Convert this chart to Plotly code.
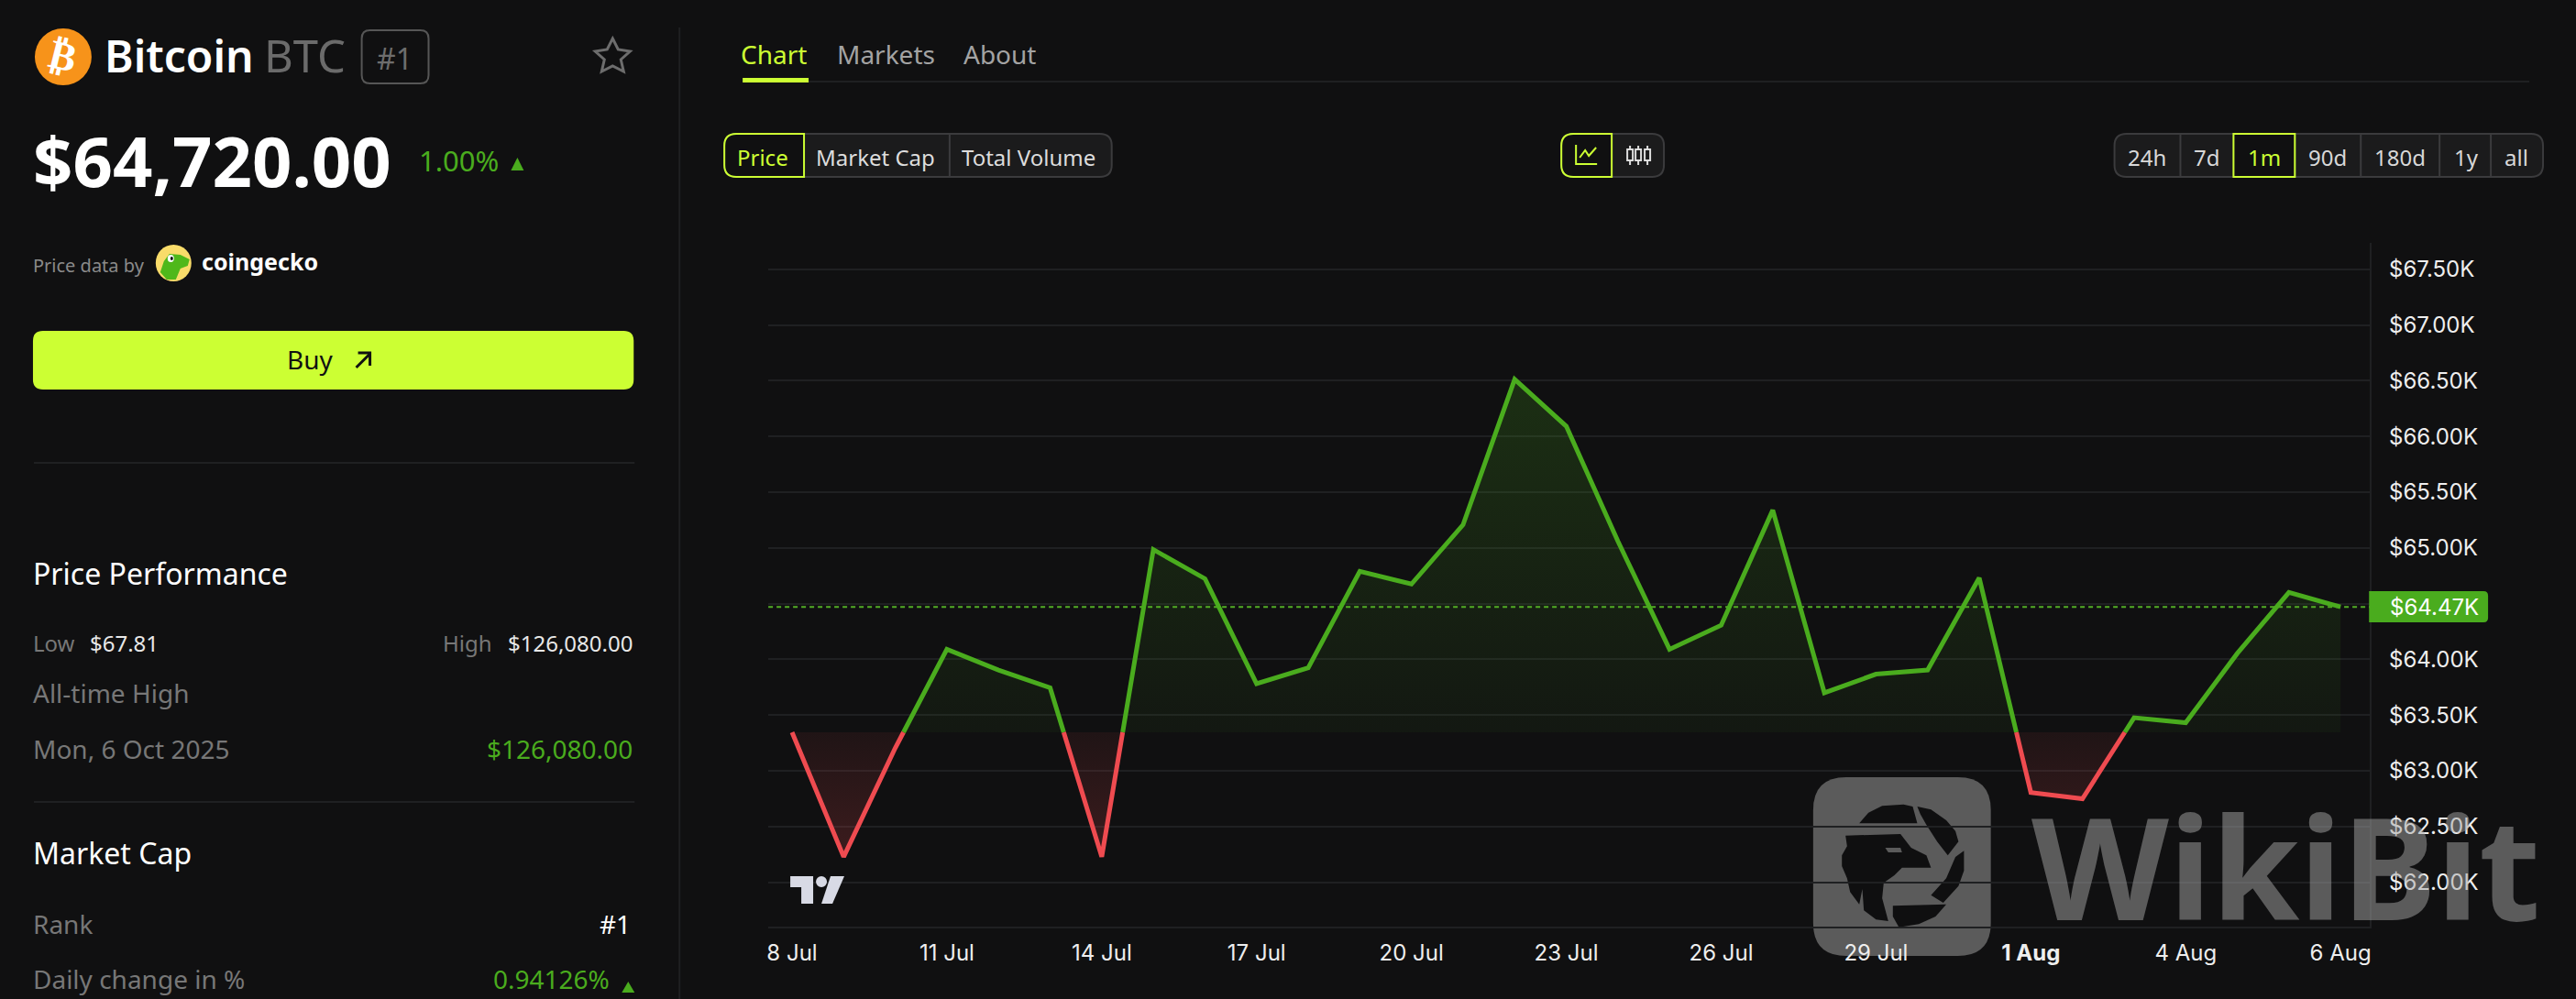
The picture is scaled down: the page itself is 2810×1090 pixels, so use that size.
import plotly.graph_objects as go

W = 2810
H = 1090

# chart values
prices = [63345, 62228, 63205, 64090, 63904, 63744, 62228, 64984, 64723, 63781, 63923,
          64790, 64675, 65207, 66511, 66091, 65059, 64090, 64306, 65338, 63699, 63867,
          63904, 64731, 62805, 62749, 63476, 63431, 64053, 64601, 64470]
days = list(range(len(prices)))
x_tick_days = [0, 3, 6, 9, 12, 15, 18, 21, 24, 27, 30]
x_tick_labels = ['8 Jul', '11 Jul', '14 Jul', '17 Jul', '20 Jul', '23 Jul', '26 Jul',
                 '29 Jul', '<b>1 Aug</b>', '4 Aug', '6 Aug']
y_tick_values = [62000, 62500, 63000, 63500, 64000, 64500, 65000, 65500, 66000, 66500, 67000, 67500]
y_tick_labels = ['$62.00K', '$62.50K', '$63.00K', '$63.50K', '$64.00K', '', '$65.00K',
                 '$65.50K', '$66.00K', '$66.50K', '$67.00K', '$67.50K']
last_price = 64470
last_label = '$64.47K'

tabs = ['Chart', 'Markets', 'About']
metric_buttons = ['Price', 'Market Cap', 'Total Volume']
range_buttons = ['24h', '7d', '1m', '90d', '180d', '1y', 'all']

BG = '#101011'
LIME = '#ccff33'
GREEN = '#4aac1e'
RED = '#ef4b50'
GRAY = '#777777'
RULE = '#1f2022'
EDGE = '#3b3b3d'
PANEL = '#1b1b1c'
UI = 'Noto Sans'
TV = 'Inter'


def px(x):
    return x / W


def py(y):
    return 1 - y / H


def rrect(x0, y0, x1, y1, tl=0, tr=0, br=0, bl=0):
    # rounded box in pixel terms, returned as a paper path
    p = lambda x, y: f'{px(x):.5f},{py(y):.5f}'
    return (f'M{p(x0 + tl, y0)} L{p(x1 - tr, y0)} Q{p(x1, y0)} {p(x1, y0 + tr)} '
            f'L{p(x1, y1 - br)} Q{p(x1, y1)} {p(x1 - br, y1)} L{p(x0 + bl, y1)} '
            f'Q{p(x0, y1)} {p(x0, y1 - bl)} L{p(x0, y0 + tl)} Q{p(x0, y0)} {p(x0 + tl, y0)} Z')


def poly(points, close=True):
    s = 'M' + ' L'.join(f'{px(x):.5f},{py(y):.5f}' for x, y in points)
    return s + (' Z' if close else '')


shapes = []
notes = []


def box(path, fill='rgba(0,0,0,0)', edge=None, width=2, layer='above'):
    shapes.append(dict(type='path', xref='paper', yref='paper', path=path, fillcolor=fill, layer=layer,
                       line=dict(color=edge or 'rgba(0,0,0,0)', width=width if edge else 0)))


def rule(x0, y0, x1, y1, color=RULE, width=2):
    shapes.append(dict(type='line', xref='paper', yref='paper', x0=px(x0), y0=py(y0), x1=px(x1), y1=py(y1),
                       line=dict(color=color, width=width), layer='above'))


def oval(x0, y0, x1, y1, fill):
    shapes.append(dict(type='circle', xref='paper', yref='paper', x0=px(x0), y0=py(y0), x1=px(x1), y1=py(y1),
                       fillcolor=fill, line=dict(width=0), layer='above'))


def label(text, x, y, size, color, anchor='left', weight=400, family=UI, angle=0):
    notes.append(dict(text=text, x=px(x), y=py(y), xref='paper', yref='paper', showarrow=False,
                      xanchor=anchor, yanchor='middle', textangle=angle,
                      font=dict(size=size, color=color, family=family, weight=weight)))


# split the series where it crosses the baseline (first value)
base = prices[0]
xs = [days[0]]
vals = [prices[0]]
for i in range(1, len(prices)):
    a, b = prices[i - 1], prices[i]
    if (a - base) * (b - base) < 0:
        xs.append(days[i - 1] + (base - a) / (b - a))
        vals.append(base)
    xs.append(days[i])
    vals.append(b)

upper = [max(v, base) for v in vals]
lower = [min(v, base) for v in vals]
green_line = [v if v >= base else None for v in vals]
red_line = [v if v <= base else None for v in vals]

fig = go.Figure()

fig.add_trace(go.Scatter(x=xs, y=[base] * len(xs), mode='lines', line=dict(width=0), hoverinfo='skip'))
fig.add_trace(go.Scatter(x=xs, y=upper, mode='lines', line=dict(width=0), fill='tonexty', hoverinfo='skip',
                         fillgradient=dict(type='vertical', start=base, stop=max(prices),
                                           colorscale=[[0, 'rgba(74,172,30,0.05)'], [1, 'rgba(74,172,30,0.2)']])))
fig.add_trace(go.Scatter(x=xs, y=[base] * len(xs), mode='lines', line=dict(width=0), hoverinfo='skip'))
fig.add_trace(go.Scatter(x=xs, y=lower, mode='lines', line=dict(width=0), fill='tonexty', hoverinfo='skip',
                         fillgradient=dict(type='vertical', start=min(prices), stop=base,
                                           colorscale=[[0, 'rgba(239,75,80,0.2)'], [1, 'rgba(239,75,80,0.07)']])))
fig.add_trace(go.Scatter(x=xs, y=green_line, mode='lines', line=dict(color=GREEN, width=5), hoverinfo='skip'))
fig.add_trace(go.Scatter(x=xs, y=red_line, mode='lines', line=dict(color=RED, width=5), hoverinfo='skip'))

# current price line
shapes.append(dict(type='line', xref='paper', yref='y', x0=px(837), x1=px(2586), y0=last_price, y1=last_price,
                   line=dict(color='rgba(90,190,40,0.9)', width=2, dash='5px,4px'), layer='below'))
box(rrect(2585, 645, 2715, 679, 0, 5, 5, 0), fill=GREEN)
notes.append(dict(text=last_label, x=px(2606), y=last_price, xref='paper', yref='y', showarrow=False,
                  xanchor='left', yanchor='middle', font=dict(size=24, color='#ffffff', family=TV)))

# header of the left panel
oval(36, 31, 98, 93, '#f7931a')
label('₿', 67, 61, 44, '#ffffff', 'center', 700, 'DejaVu Sans', 14)
label('Bitcoin', 110, 60, 48, '#ffffff', weight=600)
label('BTC', 284, 60, 49, '#6b6b6b')
box(rrect(393, 33, 466, 91, 9, 9, 9, 9), edge='#565656')
label('#1', 429, 63, 32, '#6d6d6d', 'center')
box(poly([(667, 42), (673, 54), (686, 56), (676, 65), (679, 78), (667, 72), (655, 78), (658, 65), (648, 56), (661, 54)]),
    edge='#6d6d6d', width=3)

label('$64,720.00', 32, 174, 76, '#ffffff', weight=700)
label('1.00%', 453, 175, 31, GREEN)
box(poly([(563, 172), (570, 186), (556, 186)]), fill=GREEN)

label('Price data by', 32, 289, 20, '#8a8a8a')
oval(168, 267, 207, 307, '#f9dc6a')
box(poly([(177, 285), (183, 277), (195, 278), (205, 283), (203, 290), (195, 293), (190, 305), (180, 305), (173, 297)]),
    fill='#4fb81a')
oval(181, 278, 188, 286, '#ffffff')
oval(184, 280, 187, 284, '#101011')
label('coingecko', 216, 285, 25, '#ffffff', weight=700)

box(rrect(34, 361, 690, 425, 11, 11, 11, 11), fill=LIME)
label('Buy', 337, 392, 28, '#111111', 'center')
box(poly([(387, 401), (402, 386)], close=False), edge='#111111', width=3)
box(poly([(389, 385), (402, 385), (402, 399)], close=False), edge='#111111', width=3)

rule(35, 505, 691, 505)
label('Price Performance', 32, 625, 32, '#ffffff')
label('Low', 32, 701, 24, GRAY)
label('$67.81', 94, 701, 24, '#e8e8e8')
label('High', 538, 701, 24, GRAY, 'right')
label('$126,080.00', 691, 701, 24, '#e8e8e8', 'right')
label('All-time High', 32, 756, 28, GRAY)
label('Mon, 6 Oct 2025', 32, 817, 28, GRAY)
label('$126,080.00', 691, 817, 28, GREEN, 'right')
rule(35, 875, 691, 875)
label('Market Cap', 32, 930, 32, '#ffffff')
label('Rank', 32, 1008, 28, GRAY)
label('#1', 689, 1008, 28, '#ffffff', 'right')
label('Daily change in %', 32, 1068, 28, GRAY)
label('0.94126%', 666, 1068, 28, GREEN, 'right')
box(poly([(684, 1071), (691, 1083), (677, 1083)]), fill=GREEN)

rule(740, 30, 740, 1090)

# tabs
tab_left = [805, 910, 1048]
for name, left in zip(tabs, tab_left):
    label(name, left, 59, 28, LIME if name == 'Chart' else '#a3a3a3')
rule(809, 89, 2760, 89)
box(rrect(809, 85, 881, 90), fill=LIME)

# metric buttons
box(rrect(789, 146, 1212, 193, 13, 13, 13, 13), fill=PANEL, edge=EDGE)
rule(1035, 146, 1035, 193, EDGE)
box(rrect(789, 146, 876, 193, 13, 0, 0, 13), fill=BG, edge=LIME)
metric_center = [831, 954, 1121]
for name, cx in zip(metric_buttons, metric_center):
    label(name, cx, 171, 24, LIME if name == 'Price' else '#dddddd', 'center')

# chart type buttons
box(rrect(1703, 146, 1815, 193, 13, 13, 13, 13), fill=PANEL, edge=EDGE)
box(rrect(1703, 146, 1758, 193, 13, 0, 0, 13), fill=BG, edge=LIME)
box(poly([(1719, 158), (1719, 179), (1742, 179)], close=False), edge=LIME, width=2)
box(poly([(1723, 172), (1729, 164), (1733, 170), (1741, 161)], close=False), edge=LIME, width=2)
for cx in (1778, 1787, 1797):
    rule(cx, 159, cx, 180, '#dddddd')
    box(rrect(cx - 3, 163, cx + 3, 175), fill=PANEL, edge='#dddddd')

# range buttons
box(rrect(2307, 146, 2775, 193, 13, 13, 13, 13), fill=PANEL, edge=EDGE)
for x in (2379, 2576, 2662, 2718):
    rule(x, 146, x, 193, EDGE)
box(rrect(2437, 146, 2504, 193), fill=BG, edge=LIME)
range_center = [2343, 2408, 2471, 2540, 2619, 2691, 2746]
for name, cx in zip(range_buttons, range_center):
    label(name, cx, 171, 24, LIME if name == '1m' else '#d8d8d8', 'center')

# TradingView mark
box(poly([(861, 956), (886, 956), (886, 986), (873, 986), (873, 968), (861, 968)]), fill='#d8dae5')
oval(889, 956, 901, 968, '#d8dae5')
box(poly([(905, 956), (920, 956), (907, 986), (895, 986)]), fill='#d8dae5')

# watermark, kept under the axis labels as in the reference
MARK = 'rgba(165,165,165,0.5)'
INK = '#0f0f10'
box(rrect(1978, 848, 2172, 1043, 36, 36, 36, 36), fill=MARK, layer='below')
eagle_parts = [
    [(205, 205), (235, 170), (280, 148), (350, 143), (380, 150), (395, 205)],
    [(395, 150), (440, 160), (490, 195), (520, 230), (530, 265), (495, 310), (460, 265), (425, 210), (405, 175)],
    [(520, 315), (548, 295), (548, 360), (530, 410), (480, 465), (440, 440), (490, 385)],
    [(315, 475), (490, 470), (455, 510), (400, 535), (335, 545), (315, 510)],
    [(160, 245), (340, 240), (375, 285), (425, 310), (440, 350), (345, 350), (320, 375), (285, 400), (280, 450),
     (300, 525), (260, 520), (220, 490), (215, 420), (205, 470), (175, 430), (165, 385), (148, 345), (148, 310),
     (165, 280)],
]
for part in eagle_parts:
    box(poly([(1960 + x / 3, 830 + y / 3) for x, y in part]), fill=INK, layer='below')
box(poly([(1960 + x / 3, 830 + y / 3) for x, y in [(290, 285), (340, 285), (345, 300), (300, 300)]]), fill='#5b5b5b',
    layer='below')
label('WikiBit', 2214, 943, 155, MARK, weight=700, family=UI)

fig.update_layout(
    width=W,
    height=H,
    margin=dict(l=0, r=0, t=0, b=0),
    paper_bgcolor=BG,
    plot_bgcolor=BG,
    showlegend=False,
    hovermode=False,
    shapes=shapes,
    annotations=notes,
    xaxis=dict(domain=[px(837), px(2586)], range=[-0.46, 30.57], tickmode='array', tickvals=x_tick_days,
               ticktext=x_tick_labels, showgrid=False, zeroline=False, showline=True, linecolor=RULE,
               linewidth=2, ticks='', ticklabelstandoff=6, tickangle=0,
               tickfont=dict(family=TV, size=24, color='#eeeeee')),
    yaxis=dict(domain=[py(1011), py(265)], range=[61602, 67736], side='right', anchor='x', tickmode='array',
               tickvals=y_tick_values, ticktext=y_tick_labels, showgrid=True, gridcolor=RULE, gridwidth=2,
               zeroline=False, showline=True, linecolor=RULE, linewidth=2, ticks='', ticklabelstandoff=14,
               tickfont=dict(family=TV, size=24, color='#eeeeee')),
)

# the page's default body margin would push the figure off its 2810x1090 window
fig.write_html("out.html", config=dict(displayModeBar=False),
               post_script="document.body.style.margin='0';document.body.style.background='#101011';")
